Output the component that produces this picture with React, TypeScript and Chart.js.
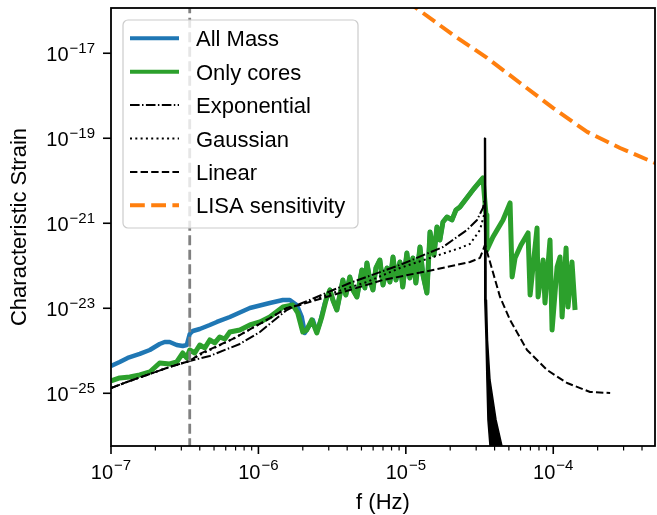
import React, { useEffect, useRef } from "react";
import { Chart, registerables } from "chart.js";

Chart.register(...registerables);

// ---- data (log10 of frequency [Hz] and log10 of characteristic strain) ----
const allMassLogF = [-7.000, -6.941, -6.887, -6.805, -6.737, -6.670, -6.636, -6.602, -6.554, -6.513, -6.486, -6.466, -6.445, -6.398, -6.330, -6.282, -6.194, -6.058, -5.923, -5.834, -5.787, -5.740, -5.706, -5.685, -5.665, -5.631, -5.604, -5.583, -5.549, -5.515, -5.495, -5.468, -5.427, -5.407, -5.380, -5.359, -5.332, -5.298, -5.278, -5.264, -5.244, -5.223, -5.203, -5.176, -5.155, -5.128, -5.108, -5.087, -5.067, -5.040, -5.021, -4.993, -4.973, -4.952, -4.932, -4.904, -4.884, -4.857, -4.836, -4.809, -4.789, -4.769, -4.748, -4.721, -4.687, -4.660, -4.633, -4.545, -4.477];
const allMassLogH = [-24.358, -24.264, -24.169, -24.075, -23.981, -23.840, -23.793, -23.793, -23.864, -23.887, -23.864, -23.605, -23.534, -23.487, -23.393, -23.322, -23.205, -22.993, -22.875, -22.805, -22.805, -22.922, -23.205, -23.581, -23.464, -23.275, -23.558, -23.346, -22.875, -22.569, -22.805, -23.040, -22.334, -22.687, -22.264, -22.569, -22.734, -22.099, -22.522, -21.934, -22.334, -22.569, -22.052, -21.864, -22.452, -22.052, -22.381, -21.793, -22.334, -21.911, -22.499, -21.699, -22.287, -21.816, -22.405, -21.558, -22.216, -22.640, -21.205, -21.746, -21.087, -21.393, -20.969, -20.852, -20.922, -20.687, -20.616, -20.216, -19.934];

const onlyCoresLogF = [-7.000, -6.941, -6.873, -6.805, -6.737, -6.670, -6.602, -6.554, -6.513, -6.486, -6.466, -6.432, -6.398, -6.364, -6.330, -6.296, -6.262, -6.228, -6.194, -6.126, -6.058, -5.990, -5.923, -5.834, -5.767, -5.733, -5.699, -5.672, -5.638, -5.604, -5.570, -5.536, -5.515, -5.495, -5.468, -5.427, -5.407, -5.380, -5.359, -5.332, -5.298, -5.278, -5.264, -5.244, -5.223, -5.203, -5.176, -5.155, -5.128, -5.108, -5.087, -5.067, -5.040, -5.021, -4.993, -4.973, -4.952, -4.932, -4.904, -4.884, -4.857, -4.836, -4.809, -4.789, -4.769, -4.748, -4.721, -4.687, -4.660, -4.633, -4.545, -4.477, -4.456, -4.450, -4.409, -4.341, -4.293, -4.279, -4.259, -4.219, -4.171, -4.157, -4.110, -4.103, -4.069, -4.056, -4.022, -4.008, -3.974, -3.954, -3.940, -3.913, -3.900, -3.873, -3.852];
const onlyCoresLogH = [-24.711, -24.640, -24.616, -24.569, -24.499, -24.287, -24.311, -24.264, -24.052, -24.169, -23.981, -24.052, -23.864, -23.934, -23.746, -23.816, -23.675, -23.722, -23.558, -23.511, -23.393, -23.322, -23.205, -22.969, -22.922, -23.111, -23.558, -23.511, -23.275, -23.581, -23.205, -22.734, -22.569, -22.805, -23.040, -22.334, -22.687, -22.264, -22.569, -22.734, -22.099, -22.522, -21.934, -22.334, -22.569, -22.052, -21.864, -22.452, -22.052, -22.381, -21.793, -22.334, -21.911, -22.499, -21.699, -22.287, -21.816, -22.405, -21.558, -22.216, -22.640, -21.205, -21.746, -21.087, -21.393, -20.969, -20.852, -20.922, -20.687, -20.616, -20.216, -19.934, -20.805, -21.628, -21.322, -20.922, -20.522, -22.264, -21.816, -21.511, -21.228, -22.687, -21.111, -22.734, -21.864, -22.875, -21.393, -23.511, -22.028, -21.793, -23.205, -21.581, -22.969, -21.911, -23.040];

const exponentialLogF = [-7.000, -6.873, -6.737, -6.602, -6.466, -6.330, -6.126, -5.990, -5.807, -5.720, -5.604, -5.380, -5.040, -4.748, -4.585, -4.517, -4.477, -4.466];
const exponentialLogH = [-24.875, -24.711, -24.546, -24.381, -24.240, -24.122, -23.840, -23.558, -23.040, -22.899, -22.734, -22.405, -21.981, -21.558, -21.158, -20.922, -20.640, -20.452];

const gaussianLogF = [-7.000, -6.873, -6.737, -6.602, -6.466, -6.398, -6.174, -5.943, -5.807, -5.720, -5.495, -5.264, -5.040, -4.816, -4.633, -4.565, -4.497, -4.466];
const gaussianLogH = [-24.875, -24.711, -24.546, -24.381, -24.240, -24.099, -23.722, -23.275, -22.993, -22.922, -22.640, -22.381, -22.052, -21.793, -21.581, -21.487, -21.158, -20.758];

const linearLogF = [-7.000, -6.873, -6.737, -6.602, -6.466, -6.398, -6.174, -5.943, -5.807, -5.720, -5.380, -5.155, -4.816, -4.565, -4.497, -4.463, -4.429, -4.361, -4.293, -4.178, -4.042, -3.906, -3.750, -3.614];
const linearLogH = [-24.875, -24.711, -24.546, -24.381, -24.240, -24.075, -23.722, -23.275, -22.993, -22.922, -22.569, -22.334, -22.099, -21.911, -21.816, -21.511, -21.911, -22.734, -23.275, -23.981, -24.452, -24.758, -24.969, -24.993];

// oscillating drop-off band after the peak (outline of the dense black band)
const spikeLogF = [-4.466, -4.466, -4.463, -4.456, -4.450, -4.443, -4.429, -4.422, -4.314, -4.348, -4.388, -4.429, -4.446, -4.453, -4.456, -4.460];
const spikeLogH = [-18.993, -22.099, -22.805, -23.746, -24.687, -25.628, -26.240, -26.805, -26.805, -26.240, -25.628, -24.687, -23.746, -22.805, -22.099, -18.993];

const lisaLogF = [-5.0, -4.884, -4.680, -4.449, -4.225, -4.0, -3.77, -3.547, -3.31, -3.25];
const lisaLogH = [-15.76, -16.052, -16.569, -17.11, -17.70, -18.29, -18.85, -19.23, -19.58, -19.66];

const cutoffFrequency = 3.42e-7;

const legendLabels = ["All Mass", "Only cores", "Exponential", "Gaussian", "Linear", "LISA sensitivity"];
const xMajorExponents = [-7, -6, -5, -4];
const yMajorExponents = [-25, -23, -21, -19, -17];
const minorMantissas = [2, 3, 4, 5, 6, 7, 8, 9];
const X_MIN = 1e-7;
const X_MAX = 4.9e-4;
const Y_MIN = 5.75e-27;
const Y_MAX = 1.16e-16;
const X_TITLE = "f (Hz)";
const Y_TITLE = "Characteristic Strain";

const FONT = '"Liberation Sans", Arial, Helvetica, sans-serif';
const BLUE = "#1f77b4";
const GREEN = "#2ca02c";
const ORANGE = "#ff7f0e";

const pts = (lf: number[], lh: number[]) =>
  lf.map((v, i) => ({ x: Math.pow(10, v), y: Math.pow(10, lh[i]) }));

type LegendStyle = { color: string; width: number; dash: number[] };
const legendStyles: LegendStyle[] = [
  { color: BLUE, width: 4, dash: [] },
  { color: GREEN, width: 4, dash: [] },
  { color: "#000", width: 2, dash: [9.6, 2.4, 1.5, 2.4] },
  { color: "#000", width: 2, dash: [2, 3.3] },
  { color: "#000", width: 2, dash: [7.4, 3.2] },
  { color: ORANGE, width: 4, dash: [14.8, 6.4] },
];

function drawPow(ctx: CanvasRenderingContext2D, exp: number, x: number, baseY: number, expY: number, align: "center" | "right") {
  const base = "10";
  const ex = "\u2212" + String(Math.abs(exp));
  ctx.font = `20px ${FONT}`;
  const wb = ctx.measureText(base).width;
  ctx.font = `15px ${FONT}`;
  const we = ctx.measureText(ex).width;
  const gap = 1;
  const total = wb + gap + we;
  const left = align === "center" ? x - total / 2 : x - total;
  ctx.textAlign = "left";
  ctx.textBaseline = "alphabetic";
  ctx.font = `20px ${FONT}`;
  ctx.fillText(base, left, baseY);
  ctx.font = `15px ${FONT}`;
  ctx.fillText(ex, left + wb + gap, expY);
}

const axesPlugin = {
  id: "mplAxes",
  afterDraw(chart: any) {
    const { ctx, chartArea: ca, scales } = chart;
    const xs = scales.x;
    const ys = scales.y;
    ctx.save();
    ctx.fillStyle = "#000";
    ctx.strokeStyle = "#000";
    ctx.setLineDash([]);

    // x ticks
    const xDecades = [-8, -7, -6, -5, -4, -3];
    ctx.lineWidth = 1.2;
    for (const d of xDecades) {
      for (const m of minorMantissas) {
        const v = m * Math.pow(10, d);
        if (v < X_MIN || v > X_MAX) continue;
        const px = xs.getPixelForValue(v);
        ctx.beginPath();
        ctx.moveTo(px, ca.bottom);
        ctx.lineTo(px, ca.bottom + 4.5);
        ctx.stroke();
      }
    }
    ctx.lineWidth = 1.6;
    for (const e of xMajorExponents) {
      const px = xs.getPixelForValue(Math.pow(10, e));
      ctx.beginPath();
      ctx.moveTo(px, ca.bottom);
      ctx.lineTo(px, ca.bottom + 8);
      ctx.stroke();
      drawPow(ctx, e, px, ca.bottom + 33, ca.bottom + 24, "center");
    }
    // y ticks
    for (const e of yMajorExponents) {
      const py = ys.getPixelForValue(Math.pow(10, e));
      ctx.beginPath();
      ctx.moveTo(ca.left - 8, py);
      ctx.lineTo(ca.left, py);
      ctx.stroke();
      drawPow(ctx, e, ca.left - 16, py + 7.5, py - 0.5, "right");
    }

    // spines
    ctx.lineWidth = 1.8;
    ctx.strokeRect(ca.left, ca.top, ca.right - ca.left, ca.bottom - ca.top);

    // axis titles
    ctx.font = `22px ${FONT}`;
    ctx.textAlign = "center";
    ctx.textBaseline = "alphabetic";
    ctx.fillText(X_TITLE, (ca.left + ca.right) / 2, 509);
    ctx.save();
    ctx.translate(26, (ca.top + ca.bottom) / 2);
    ctx.rotate(-Math.PI / 2);
    ctx.fillText(Y_TITLE, 0, 0);
    ctx.restore();

    // legend
    const bx = 123, by = 20, bw = 235, bh = 208;
    ctx.beginPath();
    (ctx as any).roundRect(bx, by, bw, bh, 5);
    ctx.fillStyle = "rgba(255,255,255,0.8)";
    ctx.fill();
    ctx.strokeStyle = "#cccccc";
    ctx.lineWidth = 1.2;
    ctx.stroke();
    const rowH = 33.4;
    legendLabels.forEach((label, i) => {
      const y = 38.3 + i * rowH;
      const st = legendStyles[i];
      ctx.strokeStyle = st.color;
      ctx.lineWidth = st.width;
      ctx.setLineDash(st.dash);
      ctx.lineCap = "butt";
      ctx.beginPath();
      ctx.moveTo(130, y);
      ctx.lineTo(179, y);
      ctx.stroke();
      ctx.setLineDash([]);
      ctx.fillStyle = "#000";
      ctx.font = `22px ${FONT}`;
      ctx.textAlign = "left";
      ctx.fillText(label, 196, y + 8);
    });
    ctx.restore();
  },
};

export default function App() {
  const ref = useRef<HTMLCanvasElement | null>(null);
  useEffect(() => {
    if (!ref.current) return;
    const common = { pointRadius: 0, tension: 0, clip: 0, borderJoinStyle: "round" as const, fill: false };
    const chart = new Chart(ref.current, {
      type: "line",
      data: {
        datasets: [
          {
            ...common,
            label: "cutoff",
            data: [{ x: cutoffFrequency, y: 1e-28 }, { x: cutoffFrequency, y: 1e-15 }],
            borderColor: "#808080",
            borderWidth: 2.8,
            borderDash: [10, 4.5],
            order: 0,
          },
          {
            ...common,
            label: legendLabels[5],
            data: pts(lisaLogF, lisaLogH),
            borderColor: ORANGE,
            borderWidth: 4,
            borderDash: [14.8, 6.4],
            order: 1,
          },
          {
            ...common,
            label: "drop",
            data: pts(spikeLogF, spikeLogH),
            borderColor: "#000",
            backgroundColor: "#000",
            borderWidth: 1.5,
            fill: "shape",
            order: 2,
          },
          {
            ...common,
            label: legendLabels[4],
            data: pts(linearLogF, linearLogH),
            borderColor: "#000",
            borderWidth: 2,
            borderDash: [7.4, 3.2],
            order: 3,
          },
          {
            ...common,
            label: legendLabels[3],
            data: pts(gaussianLogF, gaussianLogH),
            borderColor: "#000",
            borderWidth: 2,
            borderDash: [2, 3.3],
            order: 4,
          },
          {
            ...common,
            label: legendLabels[2],
            data: pts(exponentialLogF, exponentialLogH),
            borderColor: "#000",
            borderWidth: 2,
            borderDash: [9.6, 2.4, 1.5, 2.4],
            order: 5,
          },
          {
            ...common,
            label: legendLabels[1],
            data: pts(onlyCoresLogF, onlyCoresLogH),
            borderColor: GREEN,
            borderWidth: 5,
            order: 6,
          },
          {
            ...common,
            label: legendLabels[0],
            data: pts(allMassLogF, allMassLogH),
            borderColor: BLUE,
            borderWidth: 4.5,
            order: 7,
          },
        ] as any,
      },
      options: {
        responsive: false,
        animation: false,
        events: [],
        layout: { padding: { left: 111, right: 2, top: 8, bottom: 69 } },
        scales: {
          x: { type: "logarithmic", min: X_MIN, max: X_MAX, display: false },
          y: { type: "logarithmic", min: Y_MIN, max: Y_MAX, display: false },
        },
        plugins: { legend: { display: false }, tooltip: { enabled: false } },
      },
      plugins: [axesPlugin],
    });
    return () => chart.destroy();
  }, []);
  return (
    <div style={{ position: "absolute", left: 0, top: 0, width: 657, height: 515, background: "#fff" }}>
      <canvas ref={ref} width={657} height={515} style={{ display: "block" }} />
    </div>
  );
}
